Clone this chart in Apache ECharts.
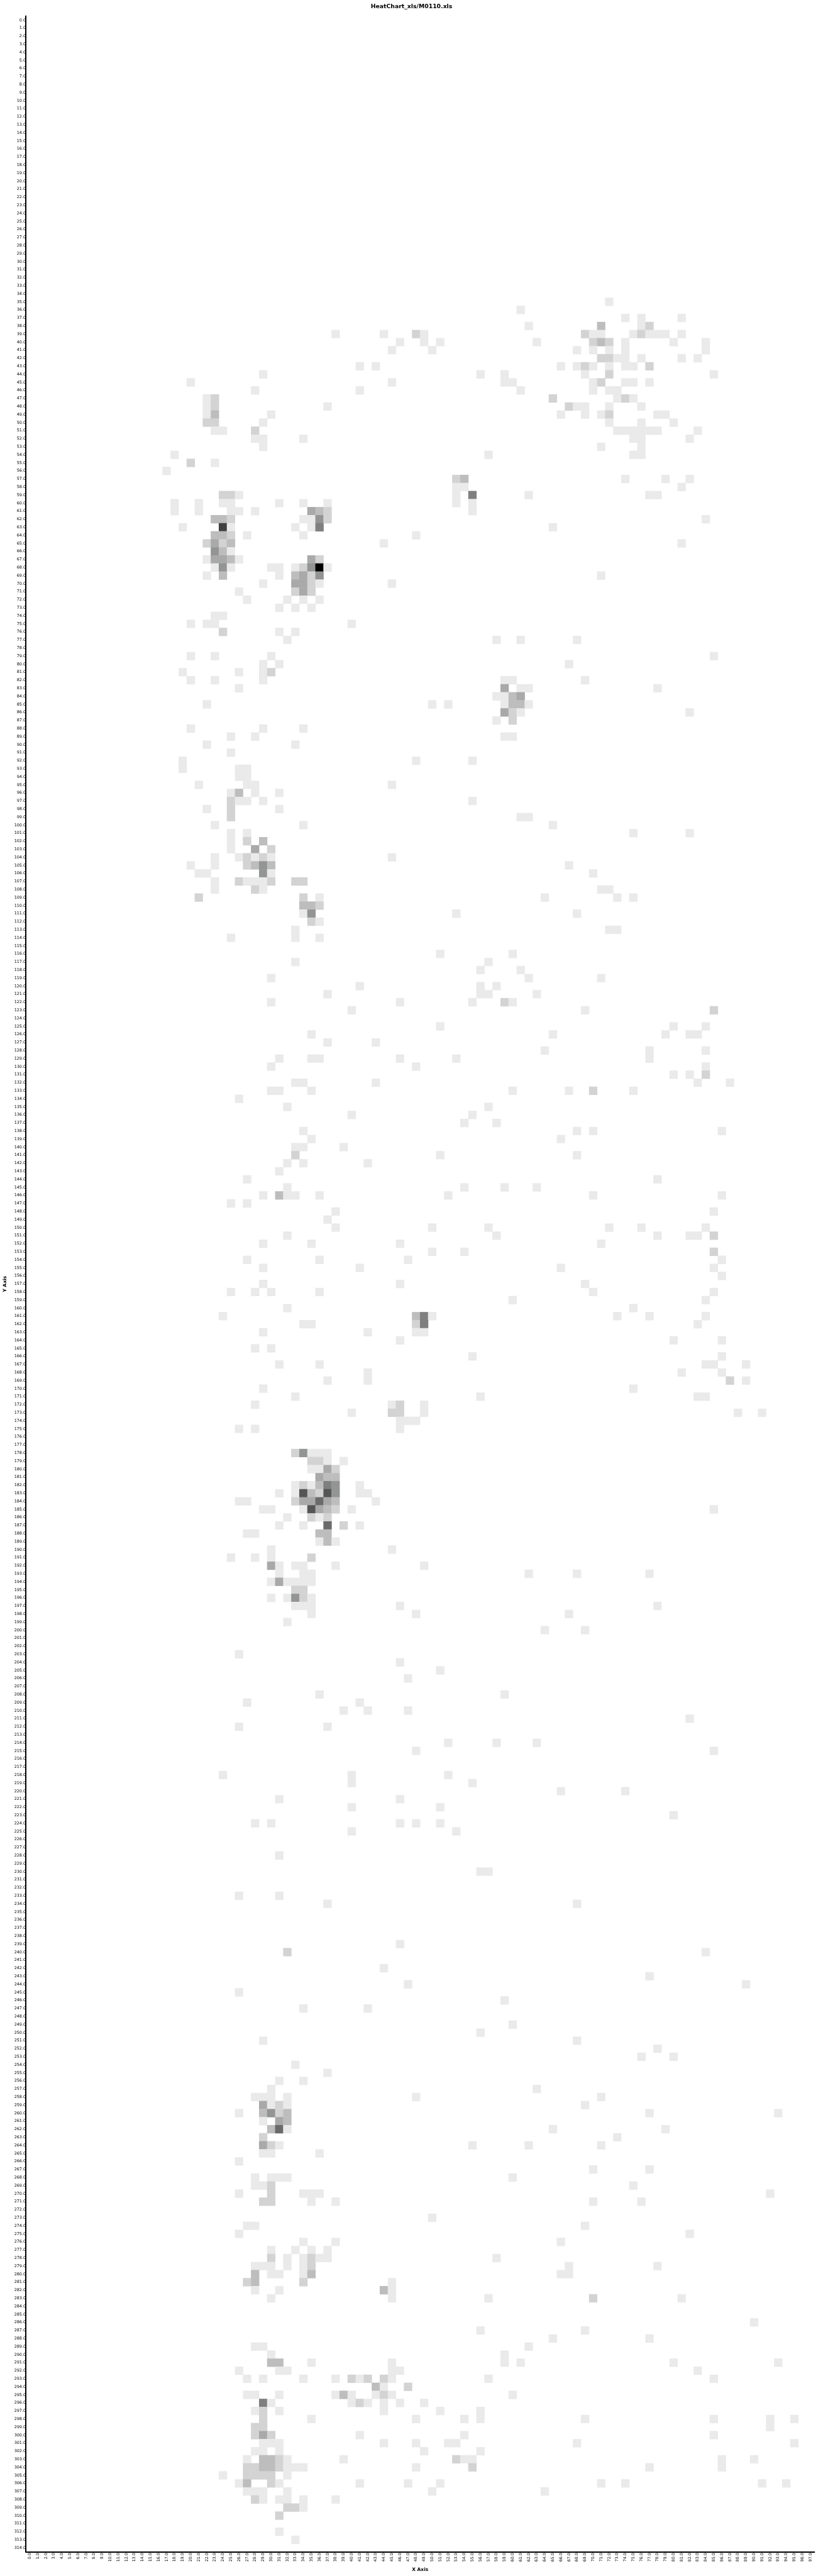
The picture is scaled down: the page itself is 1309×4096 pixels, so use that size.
<!DOCTYPE html>
<html>
<head>
<meta charset="utf-8">
<style>html,body{margin:0;padding:0;background:#fff}#c{width:1309px;height:4096px}</style>
<script src="https://cdn.jsdelivr.net/npm/echarts@6/dist/echarts.min.js"></script>
</head>
<body>
<div id="c"></div>
<script>
const titleText = 'HeatChart_xls/M0110.xls';
const xName = 'X Axis';
const yName = 'Y Axis';
const xCount = 98, yCount = 315;
const xLabels = Array.from({length:xCount},(_,i)=>i.toFixed(1));
const yLabels = Array.from({length:yCount},(_,i)=>i.toFixed(1));
const levelColors = ['#ffffff','#e9eae9','#d3d3d3','#bdbdbd','#a9a9a9','#939594','#7f7f7f','#6a6a6a','#555555','#3f403f','#2a2a2a','#151515','#000000'];

// Each row: [y index, x index, x index, ...]; a plain x index is a count of 1, [x, n] is a count of n.
const rowsBlockA = [
[35,72],[36,61],[37,74,76,81],[38,62,[71,3],76,[77,2]],
[39,38,44,[48,2],49,[69,2],70,71,75,[76,2],77,78,79,81],
[40,46,49,51,63,[70,2],[71,3],[72,2],74,80,84],
[41,45,50,68,70,72,74,84],
[42,[71,2],[72,2],73,74,76,81,83],
[43,41,43,66,68,[69,2],70,72,74,75,[77,2]],
[44,29,56,59,69,[72,2],85],
[45,20,45,59,60,70,[71,2],74,75,77],
[46,28,41,61,70,72,73],
[47,22,[23,2],[65,2],73,[74,2],75],
[48,22,[23,2],37,[67,2],68,69,72,76],
[49,22,[23,3],30,66,69,71,[72,2],78,79],
[50,[22,2],[23,2],29,72,76,80],
[51,23,24,[28,2],73,74,75,76,77,78,83],
[52,28,29,34,75,76,82],
[53,29,71,76],[54,18,57,75,76],[55,[20,2],23],[56,17],
[57,[53,2],[54,3],74,79,82],[58,53,54,81],
[59,[24,2],[25,2],26,53,[55,6],62,77,78],
[60,18,21,24,25,31,34,37,53,55],
[61,18,21,25,26,28,[35,4],[36,3],[37,2],55],
[62,[23,3],[24,3],[25,2],34,35,[36,5],[37,2],84],
[63,19,[24,9],25,33,35,[36,6],65],
[64,[23,3],[24,3],[25,2],27,34,48],
[65,[22,2],[23,4],[24,2],[25,3],44,81],
[66,[23,5],[24,3],25],
[67,22,[23,4],[24,4],[25,3],26,[35,4],[36,2]],
[68,23,[24,5],25,30,31,33,[34,2],[35,5],[36,12],37],
[69,22,[24,3],31,[33,3],[34,4],[35,2],[36,5],71],
[70,29,[33,4],[34,4],[35,2],36,45],
[71,26,[33,2],[34,4],[35,2]],
[72,27,32,34,36],[73,31,33,35],[74,23,24],[75,20,22,23,40],[76,[24,2],31,33],[77,32,58,61,68]
];
const rowsBlockB = [
[79,20,23,30,85],[80,29,31,67],[81,19,26,29,[30,2]],[82,20,23,29,59,60,69],
[83,26,[59,4],61,62,78],[84,58,59,[60,3],[61,4]],[85,22,50,52,59,[60,3],[61,3],62],
[86,[59,4],[60,2],61,82],[87,58,[60,2]],[88,20,29,34],[89,25,28,59,60],[90,22,33],[91,25],
[92,19,48,55],[93,19,26,27],[94,26,27],[95,21,27,28,45],[96,25,[26,3],28,31],
[97,[25,2],26,27,29,55],[98,22,[25,2],31],[99,[25,2],61,62],[100,23,34,65],[101,25,27,75,82],
[102,25,[27,2],[29,3]],[103,25,[28,4],[30,2]],[104,23,26,[27,2],28,[29,2],30,45],
[105,20,23,[27,2],[28,3],[29,5],[30,3],67],[106,21,22,[29,5],30,70],
[107,23,[26,2],27,28,29,[30,2],[33,2],[34,2]],[108,23,[28,2],29,71,72],
[109,[21,2],[34,2],36,64,73,75],[110,[34,3],[35,3],[36,2]],[111,34,[35,5],53,68],
[112,[35,2],36],[113,33,72,73],[114,25,33,36],[116,51,60],[117,33,57],[118,56,61],
[119,30,62,71],[120,41,56,58],[121,37,56,57,63],[122,30,46,55,[59,2],60],[123,40,69,[85,2]],
[125,51,80,84],[126,35,65,79,82,83],[127,37,43],[128,64,77,84],[129,31,35,36,46,53,77],
[130,30,48,84],[131,80,82,[84,2]],[132,33,34,43,83,87]
];
const rowsBlockC = [
[133,30,31,35,60,67,[70,2],75],[134,26],[135,32,57],[136,40,55],[137,54,58],[138,34,68,70,86],
[139,35,66],[140,33,34,39],[141,[33,2],51,68],[142,32,34,42],[143,31],[144,27,78],[145,32,54,59,63],
[146,29,[31,3],32,33,36,52,70,86],[147,25,27],[148,38,85],[149,37],[150,38,50,57,72,76,84],
[151,32,58,78,82,83,[85,2]],[152,29,35,46,71],[153,50,54,[85,2]],[154,27,36,47,86],[155,29,41,66,85],
[156,86],[157,29,46,69],[158,25,28,30,36,70,85],[159,60,84],[160,32,75],
[161,24,[48,3],[49,6],50,73,77,84],[162,34,35,[48,2],[49,6],83],[163,29,42,48,49],[164,46,80,86],
[165,28,30],[166,55,86],[167,31,36,84,85,89],[168,42,81,86],[169,37,42,[87,2],89],[170,29,75],
[171,33,56,83,84],[172,28,45,[46,2],49],[173,40,[45,2],[46,2],49,88,91],[174,46,47,48],[175,26,28,46]
];
const rowsBlockD = [
[178,[33,2],[34,5],35,36,37],[179,[35,2],[36,2],37,39],[180,35,36,[37,4],[38,2]],
[181,[36,4],[37,3],[38,3]],[182,33,[34,2],35,[36,3],[37,6],[38,5],41],
[183,31,33,[34,8],[35,3],[36,2],[37,8],[38,5],41,42],
[184,26,27,[33,2],[34,4],[35,4],[36,7],[37,4],[38,3],43],
[185,29,30,34,[35,8],[36,4],[37,3],[38,2],40,85],[186,32,[35,2],36,[37,2]],
[187,31,34,[37,7],[39,2],41],[188,27,28,[36,3],[37,3]],[189,36,[37,3],38],[190,30,45],
[191,25,28,30,[35,2]],[192,[30,4],31,33,34,38,49],[193,31,34,35,62,68,77],
[194,30,[31,4],32,33,34,35],[195,[33,2],[34,2]],[196,30,32,[33,5],[34,2],35],
[197,33,34,35,46,78],[198,35,48,67],[199,32],[200,64,69],[203,26],[204,46],[205,51],[206,47],
[208,36,59],[209,27,41],[210,39,42,47],[211,82],[212,26,37],[214,52,58,63],[215,48,85],
[218,24,40,52],[219,40,55],[220,66,74],[221,31,46],[222,40,51],[223,80],[224,28,30,46,48,51],
[225,40,53],[228,31],[230,56,57]
];
const rowsBlockE = [
[233,26,31],[234,37,68],[239,46],[240,[32,2],84],[242,44],[243,77],[244,47,89],[245,26],[246,59],
[247,34,42],[249,60],[250,56],[251,29,68],[252,78],[253,76,80],[254,33],[255,37],[256,31,34],[257,30,63],
[258,28,29,30,32,48,71],[259,[29,4],30,[31,2],32,69],[260,26,[29,3],[30,5],[31,2],[32,3],77,93],
[261,29,[31,4],[32,3]],[262,[30,3],[31,7],32,65,79],[263,[29,2],73],[264,[29,4],[30,2],31,55,62,71],
[265,29,30,36],[266,26],[267,70,77],[268,28,30,31,32,60],[269,28,29,[30,2],75],[270,26,[30,2],34,35,36,92],
[271,[29,2],[30,2],35,38,70,76],[273,50],[274,27,28,69],[275,26,82],[276,34,38,66],[277,30,33,35,37],
[278,[30,2],32,34,[35,2],36,37,58],[279,28,29,30,32,34,[35,2],67,78],[280,[28,3],30,31,34,[35,3],66,67],
[281,[27,2],[28,3],[34,2],45],[282,28,31,[44,3],45],[283,30,45,57,[70,2],81]
];
const rowsBlockF = [
[286,90],[287,56,69],[288,65,77],[289,28,29,62],[290,30,59],[291,[30,3],[31,3],35,45,59,61,80,93],
[292,26,31,32,45,46,83],[293,27,29,34,38,[40,2],41,[42,2],[44,2],45,57,85],[294,[43,3],44,[47,2]],
[295,27,28,31,38,[39,3],40,43,[44,2],45,60],[296,[29,6],30,40,[41,2],42,44,46,49],
[297,28,[29,2],31,44,51,56],[298,[29,2],35,48,54,56,69,85,92,95],[299,[28,2],[29,2],92],
[300,[28,2],[29,4],[30,2],41,54,85],[301,29,30,31,44,48,52,53,68,95],[302,28,29,31,49,56],
[303,27,[29,3],[30,3],[31,2],32,39,[53,2],54,55,86,90],
[304,[27,2],[28,2],[29,3],[30,3],[31,2],32,33,34,48,[55,2],77,86],
[305,24,[27,2],[28,2],[29,2],[30,2],32],[306,26,[27,3],[30,2],31,41,47,51,71,74,91,94],
[307,27,28,29,32,50,64],[308,[28,2],29,31,32,34,38],[309,[32,2],[33,2],34],[310,[31,2]],[312,31],[313,33]
];

const cells = [];
[rowsBlockA,rowsBlockB,rowsBlockC,rowsBlockD,rowsBlockE,rowsBlockF].forEach(block=>{
  block.forEach(r=>{
    r.slice(1).forEach(c=>{
      if(Array.isArray(c)) cells.push([c[0],r[0],c[1]]);
      else cells.push([c,r[0],1]);
    });
  });
});

const font = 'DejaVu Sans';
const chart = echarts.init(document.getElementById('c'),null,{renderer:'canvas'});
chart.setOption({
  backgroundColor:'#ffffff',
  animation:false,
  title:{text:titleText,left:'center',top:6,padding:0,
    textStyle:{fontFamily:font,fontSize:9.3,fontWeight:'bold',color:'#000'}},
  grid:{left:41,top:25.6,width:1254.4,height:4032,containLabel:false,outerBoundsMode:'none'},
  xAxis:{type:'category',data:xLabels,position:'bottom',
    name:xName,nameLocation:'middle',nameGap:24,
    nameTextStyle:{fontFamily:font,fontSize:7.5,fontWeight:'bold',color:'#000'},
    axisLine:{show:true,onZero:false,lineStyle:{color:'#000',width:2}},
    axisTick:{show:false},splitLine:{show:false},
    axisLabel:{interval:0,rotate:90,margin:1.5,fontFamily:font,fontSize:6.4,color:'#000',hideOverlap:false}},
  yAxis:{type:'category',data:yLabels,inverse:true,position:'left',
    name:yName,nameLocation:'middle',nameGap:28,nameRotate:90,
    nameTextStyle:{fontFamily:font,fontSize:7.5,fontWeight:'bold',color:'#000'},
    axisLine:{show:true,onZero:false,lineStyle:{color:'#000',width:2}},
    axisTick:{show:false},splitLine:{show:false},
    axisLabel:{interval:0,margin:0,fontFamily:font,fontSize:6.4,color:'#000',hideOverlap:false}},
  visualMap:{show:false,type:'continuous',min:0,max:12,dimension:2,seriesIndex:0,
    inRange:{color:levelColors}},
  series:[{type:'heatmap',data:cells,progressive:0,
    itemStyle:{borderWidth:0},emphasis:{disabled:true}}]
});
</script>
</body>
</html>
